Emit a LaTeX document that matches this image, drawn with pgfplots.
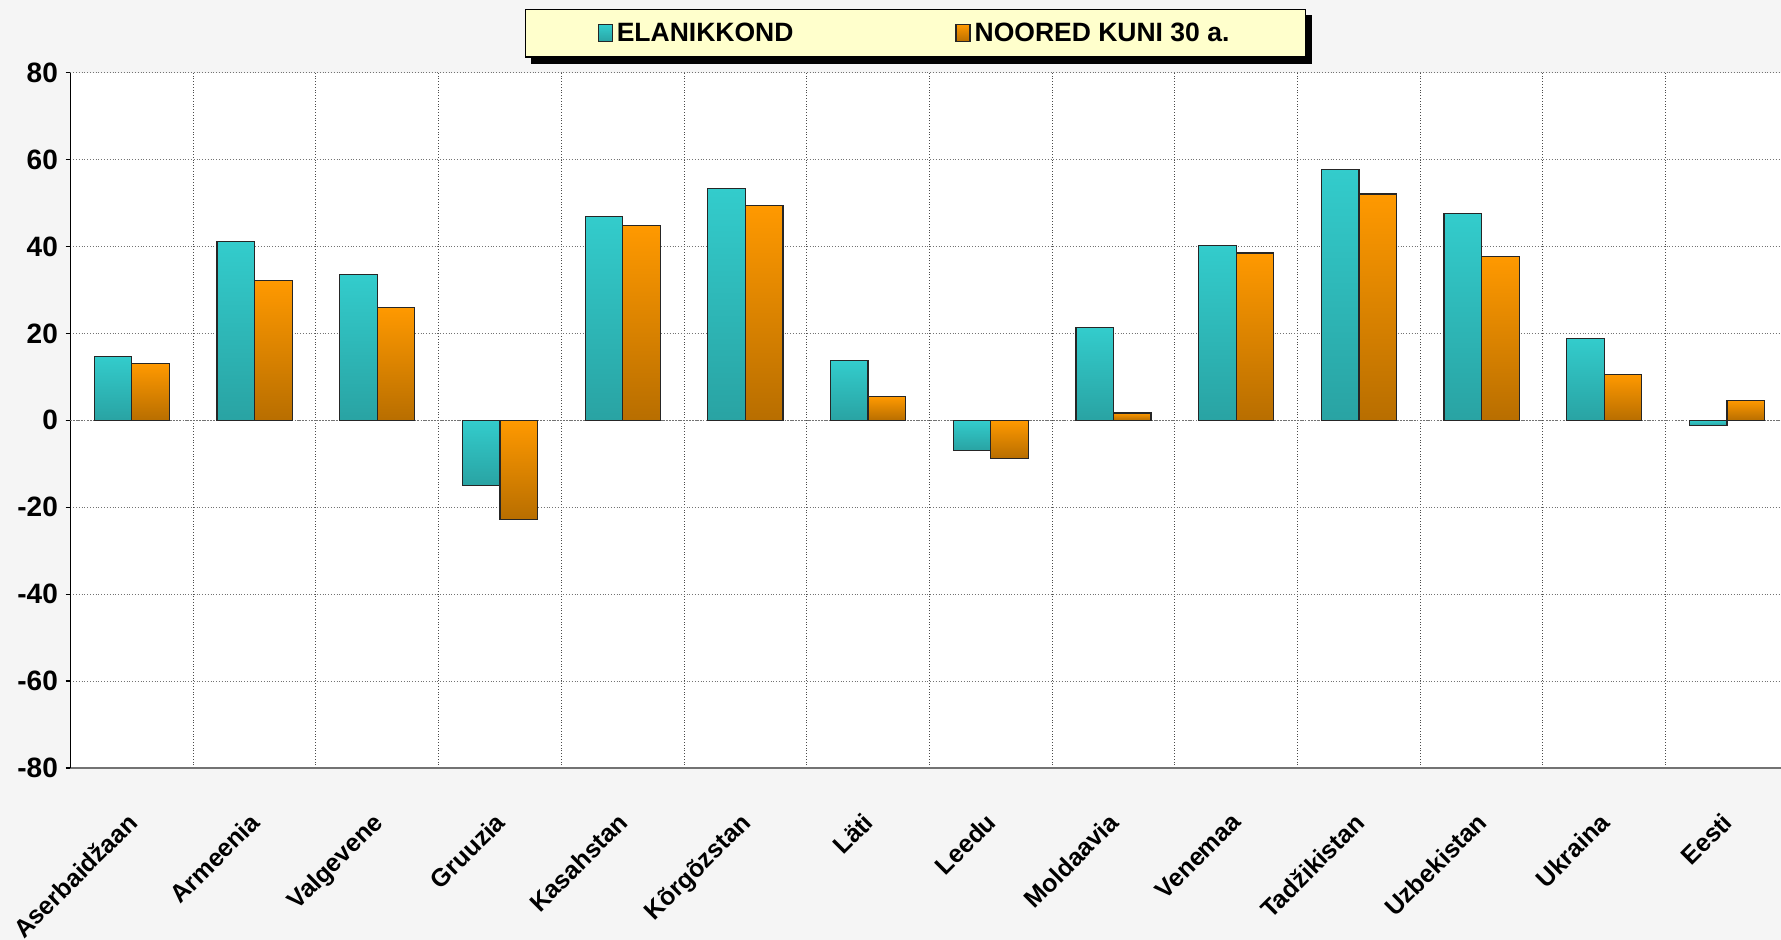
\documentclass[border=0pt]{standalone}
\usepackage{fontspec}
\setmainfont{Liberation Sans}
\usepackage{pgfplots}
\pgfplotsset{compat=1.18}
\usetikzlibrary{backgrounds}
\definecolor{tealT}{HTML}{33CCCC}
\definecolor{tealB}{HTML}{29A3A3}
\definecolor{orT}{HTML}{FF9900}
\definecolor{orB}{HTML}{B86E00}
\definecolor{legfill}{HTML}{FFFFCC}
\pgfplotsset{
  tbar/.style={draw=black!85, line width=0.6pt, shade, top color=tealT, bottom color=tealB, bar shift=-0.153, forget plot},
  obar/.style={draw=black!85, line width=0.6pt, shade, top color=orT, bottom color=orB, bar shift=0.153, forget plot},
}
\begin{document}
\begin{tikzpicture}
\begin{axis}[name=ax,
  scale only axis, width=855.25pt, height=347.6pt,
  xmin=-0.5, xmax=13.44, ymin=-80, ymax=80,
  ybar=0pt, bar width=0.306,
  axis background/.style={fill=white},
  axis x line*=bottom, axis y line*=left,
  x axis line style={black!55, line width=0.6pt},
  y axis line style={black, line width=0.6pt},
  xtick={0,...,13},
  xticklabels={Aserbaid\v{z}aan,Armeenia,Valgevene,Gruuzia,Kasahstan,K\~{o}rg\~{o}zstan,L\"{a}ti,Leedu,Moldaavia,Venemaa,Tad\v{z}ikistan,Uzbekistan,Ukraina,Eesti},
  x tick style={draw=none},
  minor xtick={0.5,1.5,...,12.5},
  minor x tick style={draw=none},
  xminorgrids,
  minor x grid style={black!70, densely dotted, line width=0.5pt},
  xticklabel style={xshift=-3pt, yshift=-19pt, rotate=45, anchor=north east, inner sep=0pt,
    font=\bfseries\fontsize{12.5}{15}\selectfont},
  ytick={-80,-60,...,80},
  ymajorgrids,
  major y grid style={black!55, densely dotted, line width=0.5pt},
  tick align=outside, major tick length=2.5pt,
  y tick style={black, line width=0.6pt},
  yticklabel style={font=\bfseries\fontsize{14}{16}\selectfont, xshift=-0.3pt},
  /pgf/number format/assume math mode=true,
  extra y ticks={0}, extra y tick labels={},
  extra y tick style={grid=major, major grid style={black!75, solid, line width=0.7pt}},
  legend columns=2,
  legend image code/.code={\draw[#1] (0pt,-4.25pt) rectangle (7pt,4.25pt);},
  legend style={name=leg, at={(0.494,1)}, anchor=south, yshift=7.5pt,
    fill=legfill, draw=black, line width=0.6pt,
    font=\bfseries\fontsize{13.25}{15}\selectfont,
    inner xsep=36pt, inner ysep=4.5pt,
    /tikz/every even column/.append style={column sep=79pt}},
]
\addlegendimage{tbar}
\addlegendentry{ELANIKKOND}
\addlegendimage{obar}
\addlegendentry{NOORED KUNI 30 a.}
% ELANIKKOND
\addplot[tbar] coordinates {(0,14.7)};
\addplot[tbar] coordinates {(1,41.1)};
\addplot[tbar] coordinates {(2,33.5)};
\addplot[tbar] coordinates {(3,-15.0)};
\addplot[tbar] coordinates {(4,46.9)};
\addplot[tbar] coordinates {(5,53.4)};
\addplot[tbar] coordinates {(6,13.7)};
\addplot[tbar] coordinates {(7,-6.9)};
\addplot[tbar] coordinates {(8,21.3)};
\addplot[tbar] coordinates {(9,40.3)};
\addplot[tbar] coordinates {(10,57.8)};
\addplot[tbar] coordinates {(11,47.6)};
\addplot[tbar] coordinates {(12,18.9)};
\addplot[tbar] coordinates {(13,-1.2)};
% NOORED KUNI 30 a.
\addplot[obar] coordinates {(0,13.0)};
\addplot[obar] coordinates {(1,32.2)};
\addplot[obar] coordinates {(2,26.0)};
\addplot[obar] coordinates {(3,-22.8)};
\addplot[obar] coordinates {(4,44.8)};
\addplot[obar] coordinates {(5,49.5)};
\addplot[obar] coordinates {(6,5.4)};
\addplot[obar] coordinates {(7,-8.7)};
\addplot[obar] coordinates {(8,1.7)};
\addplot[obar] coordinates {(9,38.5)};
\addplot[obar] coordinates {(10,52.1)};
\addplot[obar] coordinates {(11,37.7)};
\addplot[obar] coordinates {(12,10.6)};
\addplot[obar] coordinates {(13,4.6)};
\end{axis}
\pgfresetboundingbox
\coordinate (bbsw) at ([xshift=-35.25pt, yshift=-86pt]ax.south west);
\coordinate (bbne) at ([yshift=36.35pt]ax.north east);
\useasboundingbox (bbsw) rectangle (bbne);
\begin{pgfonlayer}{background}
\fill[black!4] (bbsw) rectangle (bbne);
\fill[black] ([shift={(3pt,-3pt)}]leg.south west) rectangle ([shift={(3pt,-3pt)}]leg.north east);
\end{pgfonlayer}
\end{tikzpicture}
\end{document}
